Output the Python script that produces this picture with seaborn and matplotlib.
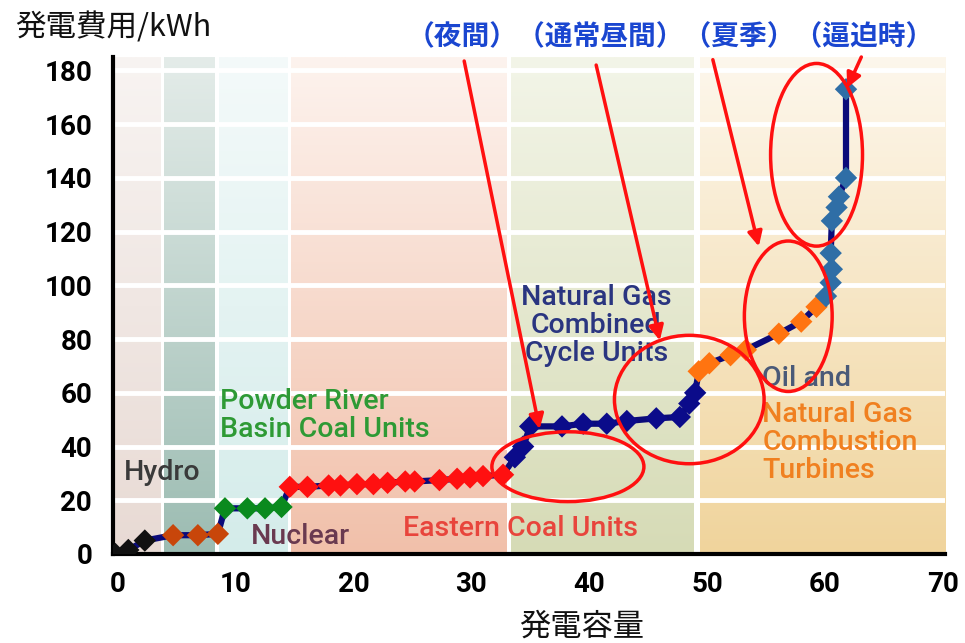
import numpy as np
import pandas as pd
import matplotlib
matplotlib.use("Agg")
import matplotlib.pyplot as plt
import seaborn as sns
from matplotlib.patches import Ellipse
from matplotlib.colors import to_rgb

sns.set_theme(style="white")
plt.rcParams['font.family'] = ['Noto Sans CJK JP', 'DejaVu Sans']

# ---------------- data ----------------
black_x = [-0.2, 0.9, 2.3]
black_y = [0.0, 1.5, 5.0]
hydro_x = [4.7, 6.8, 8.5]
hydro_y = [7.0, 7.0, 7.5]
prb_x = [9.1, 11.0, 12.5, 13.9]
prb_y = [17.0, 17.0, 17.0, 17.5]
east_x = [14.6, 16.1, 17.9, 18.9, 20.3, 21.7, 22.9, 24.4, 25.2, 27.3, 28.8, 29.9, 31.0, 32.7]
east_y = [25.0, 25.0, 25.5, 25.5, 26.0, 26.0, 26.5, 27.0, 27.0, 27.5, 28.0, 28.5, 29.0, 29.5]
ngcc_x = [33.7, 34.4, 35.0, 37.7, 39.5, 41.5, 43.2, 45.7, 47.7, 48.5, 49.0]
ngcc_y = [36.0, 40.0, 47.5, 47.5, 48.5, 48.5, 49.5, 50.5, 51.0, 56.0, 60.0]
ct_x = [49.3, 50.2, 52.0, 53.3, 56.1, 58.0, 59.3]
ct_y = [68.0, 71.0, 74.0, 76.0, 82.0, 86.5, 92.0]
peak_x = [60.1, 60.5, 60.6, 60.5, 60.6, 61.0, 61.2, 61.8, 61.8]
peak_y = [96.0, 101.0, 106.0, 112.0, 124.0, 129.0, 133.0, 140.0, 173.0]

groups = ["black", "hydro", "prb", "east", "ngcc", "ct", "peak"]
group_x = [black_x, hydro_x, prb_x, east_x, ngcc_x, ct_x, peak_x]
group_y = [black_y, hydro_y, prb_y, east_y, ngcc_y, ct_y, peak_y]
group_colors = ["#111111", "#c8460a", "#0a8a1e", "#ff1010", "#0b0b8a", "#ff7410", "#2f6ea6"]

x_ticks = [0, 10, 20, 30, 40, 50, 60, 70]
y_ticks = [0, 20, 40, 60, 80, 100, 120, 140, 160, 180]

band_starts = [-0.4, 3.9, 8.6, 14.7, 33.4, 49.4]
band_ends = [3.6, 8.2, 14.4, 33.0, 48.9, 70.2]
band_bottom = ["#e8dad4", "#9cbcb2", "#d4ecea", "#f1c0aa", "#d6dbb6", "#f0d49c"]
band_top = ["#f8f4f2", "#e4ece9", "#f4fafa", "#fdf3ee", "#f3f5e8", "#fdf7ec"]

rows = []
for g, xs, ys in zip(groups, group_x, group_y):
    for xv, yv in zip(xs, ys):
        rows.append({"group": g, "cap": xv, "cost": yv})
df = pd.DataFrame(rows)

# ---------------- figure ----------------
W, H = 965, 643
fig = plt.figure(figsize=(W / 100, H / 100), dpi=100)
ax = fig.add_axes([113 / W, 1 - 554 / H, (945 - 113) / W, (554 - 57) / H])
XL = (-0.4, 70.2)
YL = (0, 185)

# background gradient bands
for x0, x1, cb, ct in zip(band_starts, band_ends, band_bottom, band_top):
    b = np.array(to_rgb(cb)); t = np.array(to_rgb(ct))
    f = np.linspace(0, 1, 256)[:, None]
    grad = (b * (1 - f) + t * f)[:, None, :]
    ax.imshow(grad, extent=[x0, x1, YL[0], YL[1]], origin="lower", aspect="auto",
              zorder=0, interpolation="bilinear")
for yv in y_ticks[1:]:
    ax.axhline(yv, color="white", lw=3.5, zorder=1)

# curve and markers
sns.lineplot(data=df, x="cap", y="cost", sort=False, estimator=None, errorbar=None,
             color="#0b0b7a", lw=4.5, ax=ax, zorder=3, legend=False)
sns.scatterplot(data=df, x="cap", y="cost", hue="group", palette=dict(zip(groups, group_colors)),
                marker="D", s=130, linewidth=0, ax=ax, zorder=4, legend=False)

ax.set_xlim(*XL)
ax.set_ylim(*YL)
ax.set_xticks(x_ticks)
ax.set_yticks(y_ticks)
tick_font = dict(family="Roboto", weight="bold", size=20)
ax.set_xticklabels([str(v) for v in x_ticks], fontdict=tick_font)
ax.set_yticklabels([str(v) for v in y_ticks], fontdict=tick_font)
ax.tick_params(axis="both", direction="out", length=5, width=2.5, color="black", colors="black")
ax.tick_params(axis="x", pad=7)
ax.tick_params(axis="y", pad=10)
for side in ["left", "bottom"]:
    ax.spines[side].set_linewidth(3)
    ax.spines[side].set_color("black")
for side in ["top", "right"]:
    ax.spines[side].set_visible(False)
ax.set_xlabel("")
ax.set_ylabel("")

# category labels
lab = dict(family="Roboto", weight="medium", size=20.5)
ls = 1.05
ax.text(0.5, 30.5, "Hydro", color="#3a3a3a", ha="left", va="center", zorder=5, **lab)
ax.text(8.7, 51.5, "Powder River\nBasin Coal Units", color="#2e9a35", ha="left", va="center",
        linespacing=ls, zorder=5, **lab)
ax.text(11.3, 6.5, "Nuclear", color="#6a3a50", ha="left", va="center", zorder=5, **lab)
ax.text(24.2, 9.5, "Eastern Coal Units", color="#e8453c", ha="left", va="center", zorder=5, **lab)
ax.text(40.6, 85.0, "Natural Gas\nCombined\nCycle Units", color="#2a3580", ha="center",
        va="center", linespacing=ls, zorder=5, **lab)
ax.text(54.7, 65.5, "Oil and", color="#4a5a78", ha="left", va="center", zorder=5, **lab)
ax.text(54.7, 41.5, "Natural Gas\nCombustion\nTurbines", color="#f08020", ha="left",
        va="center", linespacing=ls, zorder=5, **lab)

# red ellipses
ell = [((38.2, 32.5), 12.9, 26.0), ((48.5, 57.5), 12.7, 47.8),
       ((56.9, 88.5), 7.45, 56.0), ((59.3, 148.6), 7.8, 68.0)]
for c, w, h in ell:
    ax.add_patch(Ellipse(c, w, h, fill=False, edgecolor="#ff1010", lw=2.5, zorder=6))

# red arrows
arrows = [((29.4, 183.5), (35.8, 46.5)), ((40.6, 182.0), (46.0, 79.5)),
          ((50.5, 184.0), (54.4, 114.5)), ((63.1, 185.0), (61.9, 173.5))]
for (sx, sy), (ex, ey) in arrows:
    ax.annotate("", xy=(ex, ey), xytext=(sx, sy), xycoords="data", textcoords="data",
                arrowprops=dict(arrowstyle="-|>", color="#ff1010", lw=2.5,
                                mutation_scale=22, shrinkA=0, shrinkB=0),
                annotation_clip=False, zorder=7)

# figure texts
jp = ['Noto Sans CJK JP', 'DejaVu Sans']
fig.text(15 / W, 1 - 28 / H, "発電費用/kWh", family=jp, size=22, color="#111111",
         ha="left", va="center")
fig.text(582 / W, 1 - 627 / H, "発電容量", family=jp, size=22.5, color="#111111",
         ha="center", va="center")
fig.text(407 / W, 1 - 37 / H, "（夜間）（通常昼間）（夏季）（逼迫時）", family=jp, size=20,
         weight="bold", color="#1a46d0", ha="left", va="center")

fig.savefig("out.png", dpi=100)
